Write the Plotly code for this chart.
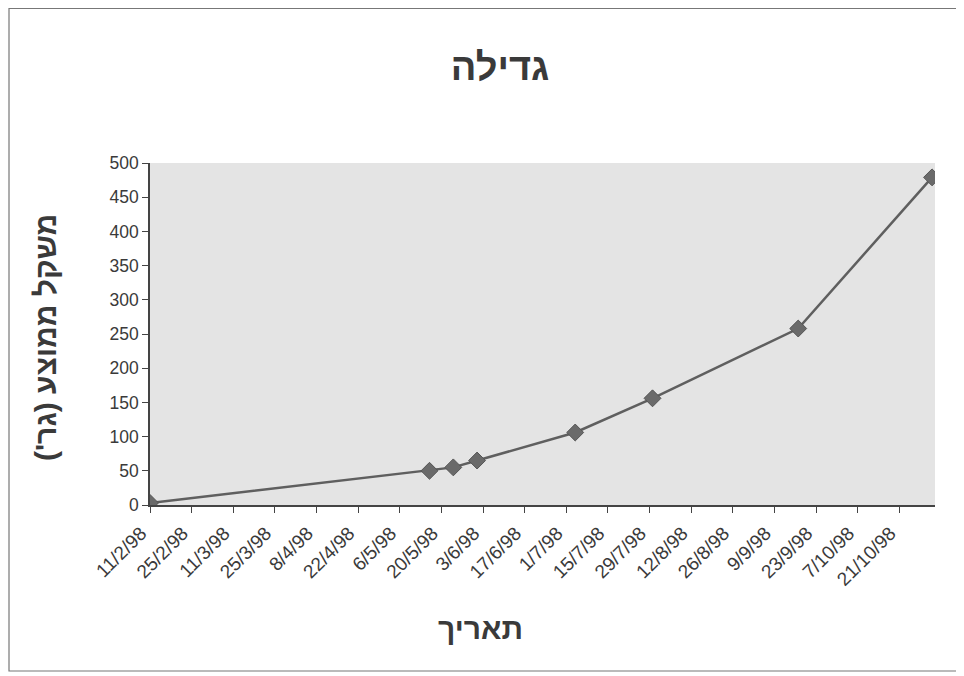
import plotly.graph_objects as go
from datetime import datetime

# Data
dates = ["11/2/98", "16/5/98", "24/5/98", "1/6/98", "4/7/98", "30/7/98", "17/9/98", "1/11/98"]
weights = [3, 50, 55, 65, 106, 156, 258, 479]

tick_labels = ["11/2/98", "25/2/98", "11/3/98", "25/3/98", "8/4/98", "22/4/98", "6/5/98",
               "20/5/98", "3/6/98", "17/6/98", "1/7/98", "15/7/98", "29/7/98", "12/8/98",
               "26/8/98", "9/9/98", "23/9/98", "7/10/98", "21/10/98"]
y_ticks = [0, 50, 100, 150, 200, 250, 300, 350, 400, 450, 500]

title_text = "גדילה"
x_title = "תאריך"
y_title = "משקל ממוצע (גר')"


def parse(s):
    return datetime.strptime(s, "%d/%m/%y")


x = [parse(d) for d in dates]
tick_vals = [parse(d) for d in tick_labels]

TXT = "#3a3a3a"
FONT = "Liberation Sans, Arial, sans-serif"

W, H = 956, 668
L, R, T, B = 142, 29, 155, 171
PW, PH = W - L - R, H - T - B


def px(fx):
    return (fx - L) / PW


def py(fy):
    return (H - B - fy) / PH


fig = go.Figure()
fig.add_trace(go.Scatter(
    x=x, y=weights, mode="lines+markers",
    line=dict(color="#5f5f5f", width=2.5),
    marker=dict(symbol="diamond", size=13, color="#6a6a6a",
                line=dict(color="#555555", width=1)),
    showlegend=False,
))

fig.update_layout(
    width=W, height=H,
    margin=dict(l=L, r=R, t=T, b=B),
    paper_bgcolor="white",
    plot_bgcolor="#e4e4e4",
    font=dict(family=FONT, color=TXT, size=17),
    title=dict(text="<b>" + title_text + "</b>", x=492 / W, xanchor="center",
               y=1 - 59 / H, yanchor="middle",
               font=dict(size=38, color=TXT, family=FONT)),
    xaxis=dict(
        type="date",
        range=[parse("11/2/98"), parse("2/11/98")],
        tickvals=tick_vals, ticktext=tick_labels,
        tickangle=-45, showgrid=False, zeroline=False,
        showline=True, linecolor="#444444", linewidth=1.5,
        ticks="outside", ticklen=6, tickcolor="#444444",
        tickfont=dict(size=19, color=TXT),
        ticklabelshift=-9, ticklabelstandoff=2,
    ),
    yaxis=dict(
        range=[0, 500], tickvals=y_ticks,
        showgrid=False, zeroline=False,
        showline=True, linecolor="#444444", linewidth=1.5,
        ticks="outside", ticklen=6, tickcolor="#444444",
        tickfont=dict(size=17.5, color=TXT),
    ),
    shapes=[dict(type="rect", xref="paper", yref="paper",
                 x0=px(1), x1=px(952), y0=py(663), y1=py(0.5),
                 line=dict(color="#777777", width=1.2), fillcolor="rgba(0,0,0,0)",
                 layer="below")],
    annotations=[
        dict(text="<b>" + x_title + "</b>", xref="paper", yref="paper",
             x=px(472), y=py(620), xanchor="center", yanchor="middle",
             showarrow=False, font=dict(size=30, color=TXT, family=FONT)),
        dict(text="<b>" + y_title + "</b>", xref="paper", yref="paper",
             x=px(37), y=py(330), xanchor="center", yanchor="middle",
             textangle=-90, showarrow=False, font=dict(size=30, color=TXT, family=FONT)),
    ],
)

fig.write_html("out.html")
